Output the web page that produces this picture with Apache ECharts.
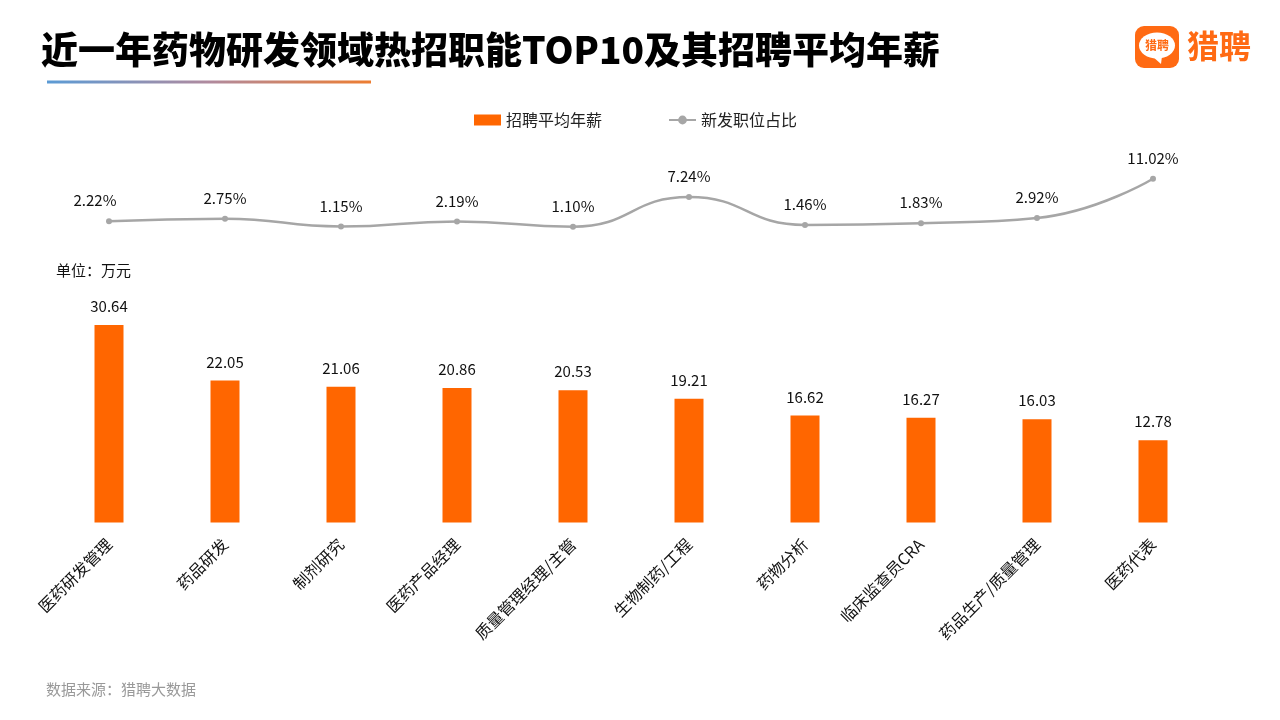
<!DOCTYPE html>
<html>
<head>
<meta charset="utf-8">
<script src="https://cdn.jsdelivr.net/npm/echarts@6/dist/echarts.min.js"></script>
<style>
html,body{margin:0;padding:0;background:#fff;}
#c{width:1280px;height:720px;}
</style>
</head>
<body>
<div id="c"></div>
<script>
const categories = ['医药研发管理','药品研发','制剂研究','医药产品经理','质量管理经理/主管','生物制药/工程','药物分析','临床监查员CRA','药品生产/质量管理','医药代表'];
const salary = [30.64, 22.05, 21.06, 20.86, 20.53, 19.21, 16.62, 16.27, 16.03, 12.78];
const share = [2.22, 2.75, 1.15, 2.19, 1.10, 7.24, 1.46, 1.83, 2.92, 11.02];
const titleText = '近一年药物研发领域热招职能TOP10及其招聘平均年薪';
const unitText = '单位：万元';
const sourceText = '数据来源：猎聘大数据';
const brandText = '猎聘';

const FONT = '"Noto Sans CJK SC", "Noto Sans", sans-serif';
const chart = echarts.init(document.getElementById('c'));
const shareData = share.map((v, i) => i === 0 ? { value: v, label: { offset: [-14, 0] } } : v);
const option = {
  backgroundColor: '#fff',
  textStyle: { fontFamily: FONT },
  animation: false,
  legend: {
    left: 469, top: 107,
    itemWidth: 27, itemHeight: 11, itemGap: 66,
    textStyle: { fontSize: 16, color: '#222', fontFamily: FONT },
    data: [
      { name: '招聘平均年薪', icon: 'rect' },
      { name: '新发职位占比' }
    ]
  },
  grid: [
    { left: 51, width: 1160, top: 174, height: 58 },
    { left: 51, width: 1160, top: 297, height: 225.5 }
  ],
  xAxis: [
    { gridIndex: 0, type: 'category', data: categories, show: false },
    { gridIndex: 1, type: 'category', data: categories,
      axisLine: { show: false }, axisTick: { show: false },
      axisLabel: { rotate: 45, interval: 0, fontSize: 16, color: '#111', margin: 19, fontFamily: FONT } }
  ],
  yAxis: [
    { gridIndex: 0, type: 'value', min: 0, max: 12, show: false },
    { gridIndex: 1, type: 'value', min: 0, max: 35, show: false }
  ],
  series: [
    {
      name: '招聘平均年薪', type: 'bar', xAxisIndex: 1, yAxisIndex: 1,
      data: salary, barWidth: 29,
      itemStyle: { color: '#ff6600' },
      label: { show: true, position: 'top', distance: 11, fontSize: 15, color: '#111', fontFamily: FONT,
        formatter: p => p.value.toFixed(2) }
    },
    {
      name: '新发职位占比', type: 'line', xAxisIndex: 0, yAxisIndex: 0,
      data: shareData, smooth: true, symbol: 'circle', symbolSize: 6,
      lineStyle: { color: '#a6a6a6', width: 2.5 },
      itemStyle: { color: '#a6a6a6' },
      label: { show: true, position: 'top', distance: 10, fontSize: 15, color: '#111', fontFamily: FONT,
        formatter: p => p.value.toFixed(2) + '%' }
    }
  ],
  graphic: [
    { type: 'text', x: 41, y: 50, style: { text: titleText, fill: '#000', verticalAlign: 'middle', font: '900 37px ' + FONT } },
    { type: 'rect', shape: { x: 47, y: 80.5, width: 324, height: 3 },
      style: { fill: new echarts.graphic.LinearGradient(0, 0, 1, 0, [
        { offset: 0, color: '#5b9bd5' }, { offset: 0.5, color: '#b08a9e' }, { offset: 1, color: '#ed7d31' }]) } },
    { type: 'rect', shape: { x: 1135, y: 26, width: 44, height: 42, r: 9 }, style: { fill: '#ff6a13' } },
    { type: 'circle', x: 1157, y: 45.5, scaleY: 0.72, shape: { cx: 0, cy: 0, r: 18 }, style: { fill: '#fff' } },
    { type: 'polygon', shape: { points: [[1152, 56], [1162, 56], [1161, 64]] }, style: { fill: '#fff' } },
    { type: 'text', x: 1157, y: 45.5, style: { text: brandText, fill: '#ff6a13', align: 'center', verticalAlign: 'middle', font: 'bold 12px ' + FONT } },
    { type: 'text', x: 1187, y: 46, style: { text: brandText, fill: '#ff6a13', verticalAlign: 'middle', font: 'bold 32px ' + FONT } },
    { type: 'text', x: 56, y: 270, style: { text: unitText, fill: '#111', verticalAlign: 'middle', font: '15px ' + FONT } },
    { type: 'text', x: 46, y: 689, style: { text: sourceText, fill: '#999', verticalAlign: 'middle', font: '15px ' + FONT } }
  ]
};
chart.setOption(option);
</script>
</body>
</html>
